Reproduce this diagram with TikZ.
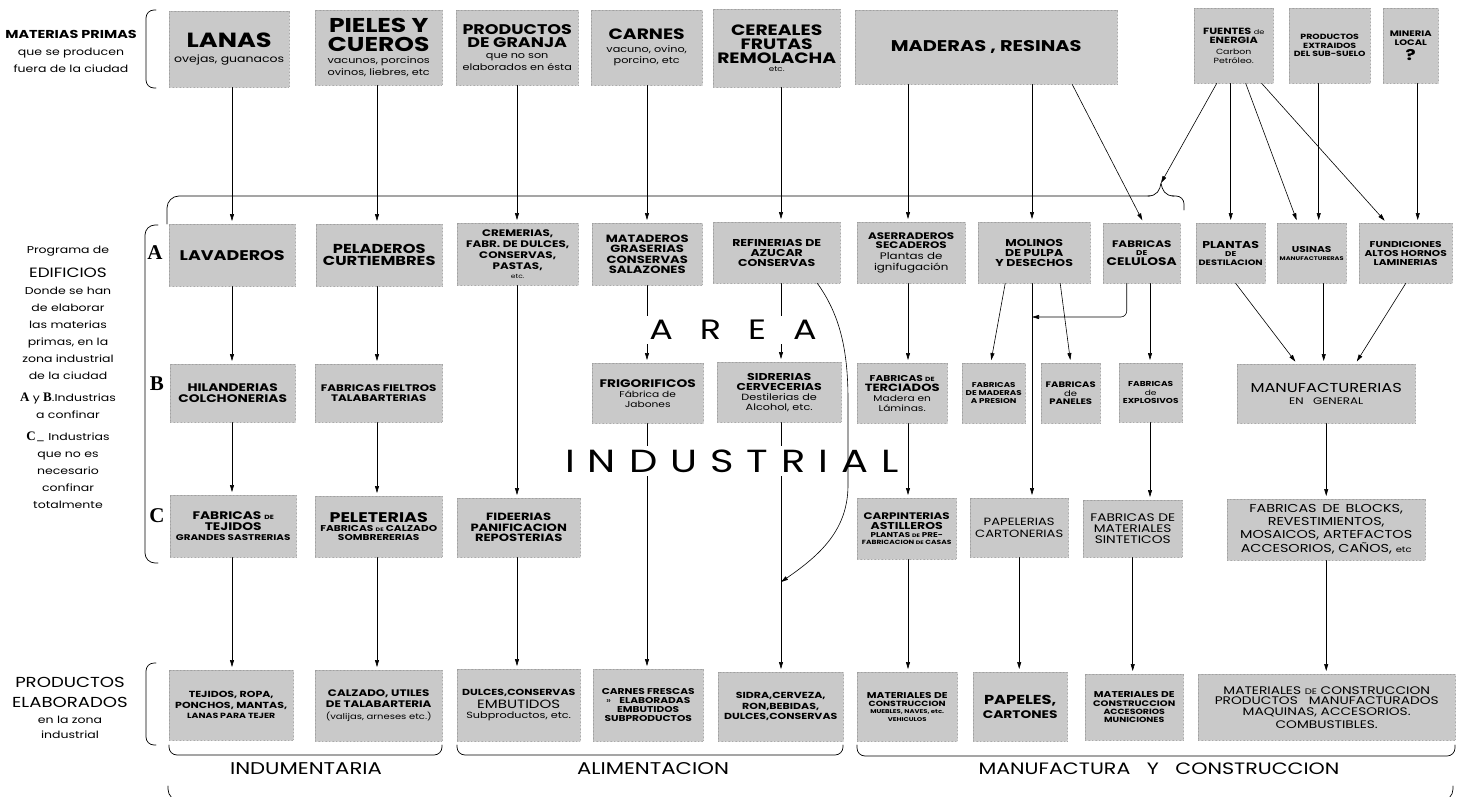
\documentclass[tikz,border=0pt]{standalone}
\usepackage{fontspec}
\setmainfont{Poppins}[FakeStretch=1.25]
\newfontfamily\abcfont{Liberation Serif}
\usetikzlibrary{arrows.meta}
\newcommand{\tx}[2]{{\fontsize{#1}{#1}\selectfont#2}}
\definecolor{screen}{gray}{0.79}

\begin{document}
\begin{tikzpicture}[x=1pt, y=-1pt, line cap=round, line join=round,
  box/.style={anchor=north west, fill=screen, draw=black!40, densely dotted, line width=0.4pt,
    inner sep=1pt, align=center, font=\fontsize{8}{0}\selectfont\bfseries\setlength{\lineskip}{3pt}},
  arr/.style={solid, line width=0.6pt, -{Triangle[length=7pt,width=4pt]}, shorten >=3pt},
  brk/.style={line width=0.7pt},
  side/.style={anchor=north, inner sep=0pt, align=center, font=\fontsize{10}{17}\selectfont},
  abc/.style={font=\abcfont\bfseries\fontsize{21}{21}\selectfont},
  area/.style={fill=white, inner sep=4pt, font=\fontsize{28}{28}\selectfont},
  sect/.style={font=\fontsize{17}{17}\selectfont}]
\useasboundingbox (0,0) rectangle (1464,797);

\coordinate (c1) at (232,0);
\coordinate (c2) at (377,0);
\coordinate (c3) at (517,0);
\coordinate (c4) at (647,0);
\coordinate (c5) at (781,0);
\coordinate (c6) at (908,0);
\coordinate (c7) at (1032,0);
\coordinate (c9) at (1150,0);
\coordinate (tip) at (1161,183);
\coordinate (celj) at (1032,317);
\coordinate (sidj) at (781,582);

\node[side] (mp) at (71,30) {\tx{11.5}{\bfseries MATERIAS PRIMAS}\\que se producen\\fuera de la ciudad};
\node[side] (edif) at (68,246) {Programa de\\[7pt]\tx{13.5}{EDIFICIOS}\\Donde se han\\de elaborar\\las materias\\primas, en la\\zona industrial\\de la ciudad\\[5pt]{\abcfont\bfseries\tx{13}{A}} y {\abcfont\bfseries\tx{13}{B}}.Industrias\\a confinar\\[5pt]{\abcfont\bfseries\tx{13}{C}}\_ Industrias\\que no es\\necesario\\confinar\\totalmente};
\node[side, font=\fontsize{10}{15}\selectfont] (pe) at (70,677) {\tx{14.5}{PRODUCTOS}\\[5pt]\tx{14.5}{ELABORADOS}\\[1pt]en la zona\\industrial};
\node[abc] (la) at (155,253) {A};
\node[abc] (lb) at (157,384) {B};
\node[abc] (lc) at (157,516) {C};

\node[box, minimum width=120pt, minimum height=76pt] (lanas) at (169,11) {\tx{20.5}{LANAS}\\[4pt]\tx{10}{\mdseries ovejas, guanacos}};
\node[box, minimum width=127pt, minimum height=75pt] (pieles) at (315,10) {\tx{20}{PIELES Y}\\[1pt]\tx{20}{CUEROS}\\[2pt]\tx{9}{\mdseries vacunos, porcinos}\\\tx{9}{\mdseries ovinos, liebres, etc}};
\node[box, minimum width=122pt, minimum height=75pt] (granja) at (456,10) {\tx{14}{PRODUCTOS}\\\tx{14}{DE GRANJA}\\[2pt]\tx{9}{\mdseries que no son}\\\tx{9}{\mdseries elaborados en ésta}};
\node[box, minimum width=111pt, minimum height=75pt] (carnes) at (591,10) {\tx{15}{CARNES}\\[3pt]\tx{9}{\mdseries vacuno, ovino,}\\\tx{9}{\mdseries porcino, etc}};
\node[box, minimum width=127pt, minimum height=78pt] (cereal) at (713,9) {\tx{15}{CEREALES}\\\tx{15}{FRUTAS}\\\tx{15}{REMOLACHA}\\\tx{7}{\mdseries etc.}};
\node[box, minimum width=262pt, minimum height=74pt] (maderas) at (855,10) {\tx{15.5}{MADERAS , RESINAS}};
\node[box, minimum width=79pt, minimum height=75pt] (fuentes) at (1194,8) {\tx{9}{FUENTES \tx{6.5}{\mdseries de}}\\\tx{9}{ENERGIA}\\[2pt]\tx{7.5}{\mdseries Carbon}\\\tx{7.5}{\mdseries Petróleo.}};
\node[box, minimum width=81pt, minimum height=75pt] (extra) at (1289,8) {\tx{7.5}{PRODUCTOS}\\\tx{7.5}{EXTRAIDOS}\\\tx{7.5}{DEL SUB-SUELO}};
\node[box, minimum width=55pt, minimum height=75pt] (mineria) at (1383,8) {\tx{8}{MINERIA}\\\tx{8}{LOCAL}\\[1pt]\tx{15}{?}};

\node[box, minimum width=126pt, minimum height=62pt] (lavad) at (169,224) {\tx{14}{LAVADEROS}};
\node[box, minimum width=126pt, minimum height=62pt] (pelad) at (316,224) {\tx{13}{PELADEROS}\\\tx{13}{CURTIEMBRES}};
\node[box, minimum width=121pt, minimum height=62pt] (crem) at (457,223) {\tx{9.5}{CREMERIAS,}\\\tx{9.5}{FABR. DE DULCES,}\\\tx{9.5}{CONSERVAS,}\\\tx{9.5}{PASTAS,}\\\tx{6}{\mdseries etc.}};
\node[box, minimum width=110pt, minimum height=62pt] (matad) at (592,223) {\tx{10.5}{MATADEROS}\\\tx{10.5}{GRASERIAS}\\\tx{10.5}{CONSERVAS}\\\tx{10.5}{SALAZONES}};
\node[box, minimum width=127pt, minimum height=61pt] (refin) at (713,222) {\tx{10}{REFINERIAS DE}\\\tx{10}{AZUCAR}\\\tx{10}{CONSERVAS}};
\node[box, minimum width=108pt, minimum height=61pt] (aserr) at (857,222) {\tx{9.5}{ASERRADEROS}\\\tx{9.5}{SECADEROS}\\[1pt]\tx{9.5}{\mdseries Plantas de}\\\tx{9.5}{\mdseries ignifugación}};
\node[box, minimum width=112pt, minimum height=61pt] (molin) at (978,222) {\tx{10}{MOLINOS}\\\tx{10}{DE PULPA}\\\tx{10}{Y DESECHOS}};
\node[box, minimum width=77pt, minimum height=60pt] (celul) at (1103,223) {\tx{9.5}{FABRICAS}\\\tx{7}{DE}\\\tx{11}{CELULOSA}};
\node[box, minimum width=69pt, minimum height=60pt] (plant) at (1196,223) {\tx{10}{PLANTAS}\\\tx{7}{DE}\\\tx{7.8}{DESTILACION}};
\node[box, minimum width=69pt, minimum height=60pt] (usin) at (1277,223) {\tx{8.5}{USINAS}\\[1pt]\tx{5.3}{MANUFACTURERAS}};
\node[box, minimum width=93pt, minimum height=60pt] (fund) at (1359,223) {\tx{8.5}{FUNDICIONES}\\\tx{8.5}{ALTOS HORNOS}\\\tx{8.5}{LAMINERIAS}};

\node[box, minimum width=125pt, minimum height=58pt] (hiland) at (170,364) {\tx{11}{HILANDERIAS}\\\tx{11}{COLCHONERIAS}};
\node[box, minimum width=127pt, minimum height=58pt] (fieltr) at (315,364) {\tx{9.5}{FABRICAS FIELTROS}\\\tx{9.5}{TALABARTERIAS}};
\node[box, minimum width=111pt, minimum height=60pt] (frigo) at (592,363) {\tx{11}{FRIGORIFICOS}\\[1pt]\tx{8.5}{\mdseries Fábrica de}\\\tx{8.5}{\mdseries Jabones}};
\node[box, minimum width=124pt, minimum height=60pt] (sidrer) at (717,362) {\tx{10}{SIDRERIAS}\\\tx{10}{CERVECERIAS}\\\tx{9}{\mdseries Destilerias de}\\\tx{9}{\mdseries Alcohol, etc.}};
\node[box, minimum width=90pt, minimum height=60pt] (terc) at (857,363) {\tx{8.5}{FABRICAS \tx{6}{DE}}\\\tx{10.5}{TERCIADOS}\\\tx{8.5}{\mdseries Madera en}\\\tx{8.5}{\mdseries Láminas.}};
\node[box, minimum width=63pt, minimum height=60pt] (presion) at (962,363) {\tx{7}{FABRICAS}\\\tx{7}{DE MADERAS}\\\tx{7}{A PRESION}};
\node[box, minimum width=59pt, minimum height=60pt] (panel) at (1041,363) {\tx{8}{FABRICAS}\\\tx{8}{\mdseries de}\\\tx{8}{PANELES}};
\node[box, minimum width=63pt, minimum height=59pt] (explo) at (1119,363) {\tx{7.2}{FABRICAS}\\\tx{7.2}{\mdseries de}\\\tx{7.2}{EXPLOSIVOS}};
\node[box, minimum width=178pt, minimum height=59pt] (manuf) at (1237,364) {\tx{13}{\mdseries MANUFACTURERIAS}\\[2pt]\tx{9.5}{\mdseries EN\quad GENERAL}};

\node[box, minimum width=126pt, minimum height=62pt] (ftejid) at (170,495) {\tx{11}{FABRICAS \tx{6}{DE}}\\\tx{11}{TEJIDOS}\\[1pt]\tx{8.3}{GRANDES SASTRERIAS}};
\node[box, minimum width=127pt, minimum height=61pt] (pelet) at (315,496) {\tx{14}{PELETERIAS}\\\tx{8.5}{FABRICAS \tx{5}{DE} CALZADO}\\\tx{8.5}{SOMBRERERIAS}};
\node[box, minimum width=123pt, minimum height=59pt] (fide) at (457,498) {\tx{10.5}{FIDEERIAS}\\\tx{10.5}{PANIFICACION}\\\tx{10.5}{REPOSTERIAS}};
\node[box, minimum width=99pt, minimum height=61pt] (carp) at (857,498) {\tx{9.5}{CARPINTERIAS}\\\tx{10}{ASTILLEROS}\\\tx{7}{PLANTAS \tx{5}{DE} PRE-}\\\tx{6}{FABRICACION \tx{5}{DE} CASAS}};
\node[box, minimum width=98pt, minimum height=59pt] (papel) at (970,498) {\tx{10.5}{\mdseries PAPELERIAS}\\[1pt]\tx{10.5}{\mdseries CARTONERIAS}};
\node[box, minimum width=99pt, minimum height=57pt] (sint) at (1083,500) {\tx{11}{\mdseries FABRICAS DE}\\\tx{11}{\mdseries MATERIALES}\\\tx{11}{\mdseries SINTETICOS}};
\node[box, minimum width=198pt, minimum height=61pt] (blocks) at (1227,499) {\tx{11.5}{\mdseries FABRICAS\enspace DE\enspace BLOCKS,}\\\tx{11.5}{\mdseries REVESTIMIENTOS,}\\\tx{11.5}{\mdseries MOSAICOS, ARTEFACTOS}\\\tx{11.5}{\mdseries ACCESORIOS, CAÑOS, \tx{8}{etc}}};

\node[box, minimum width=124pt, minimum height=70pt] (tejrop) at (169,670) {\tx{8.8}{TEJIDOS, ROPA,}\\\tx{8.8}{PONCHOS, MANTAS,}\\[1pt]\tx{7.5}{LANAS PARA TEJER}};
\node[box, minimum width=127pt, minimum height=71pt] (calz) at (315,670) {\tx{9.5}{CALZADO, UTILES}\\\tx{9.5}{DE TALABARTERIA}\\[1pt]\tx{8}{\mdseries (valijas, arneses etc.)}};
\node[box, minimum width=123pt, minimum height=72pt] (dulc) at (457,669) {\tx{8.8}{DULCES,CONSERVAS}\\\tx{12}{\mdseries EMBUTIDOS}\\\tx{9}{\mdseries Subproductos, etc.}};
\node[box, minimum width=110pt, minimum height=72pt] (cfres) at (593,669) {\tx{8.5}{CARNES FRESCAS}\\\tx{8.5}{{\mdseries »}\quad ELABORADAS}\\\tx{8.5}{EMBUTIDOS}\\\tx{8.5}{SUBPRODUCTOS}};
\node[box, minimum width=125pt, minimum height=69pt] (sidra) at (718,672) {\tx{8.8}{SIDRA,CERVEZA,}\\\tx{8.8}{RON,BEBIDAS,}\\\tx{8.8}{DULCES,CONSERVAS}};
\node[box, minimum width=100pt, minimum height=69pt] (matc1) at (857,672) {\tx{8.5}{MATERIALES DE}\\\tx{7.5}{CONSTRUCCION}\\\tx{5.5}{MUEBLES, NAVES, etc.}\\\tx{5.5}{VEHICULOS}};
\node[box, minimum width=94pt, minimum height=69pt] (papls) at (973,672) {\tx{13}{PAPELES,}\\[1pt]\tx{11}{CARTONES}};
\node[box, minimum width=98pt, minimum height=66pt] (matc2) at (1085,674) {\tx{8.5}{MATERIALES DE}\\\tx{8}{CONSTRUCCION}\\\tx{7.5}{ACCESORIOS}\\\tx{7.5}{MUNICIONES}};
\node[box, minimum width=257pt, minimum height=66pt] (matgen) at (1198,674) {\tx{11}{\mdseries MATERIALES \tx{8}{DE} CONSTRUCCION}\\\tx{11}{\mdseries PRODUCTOS\quad MANUFACTURADOS}\\\tx{11}{\mdseries MAQUINAS, ACCESORIOS.}\\\tx{11}{\mdseries COMBUSTIBLES.}};

\node[sect] (indum) at (306,769) {INDUMENTARIA};
\node[sect] (alim) at (653,769) {ALIMENTACION};
\node[sect, font=\fontsize{16.5}{16.5}\selectfont] (manu) at (1159,769) {MANUFACTURA\quad Y\quad CONSTRUCCION};

\draw[brk, rounded corners=8pt] (156,10) -- (146,10) -- (146,88) -- (156,88);
\draw[brk, rounded corners=10pt] (158,225) -- (145,225) -- (145,563) -- (158,563);
\draw[brk, rounded corners=8pt] (156,663) -- (146,663) -- (146,745) -- (156,745);
\draw[brk, rounded corners=12pt] (167,224) -- (167,196) -- (1150,196);
\draw[brk] (1148,196) .. controls (1157,196) and (1160,190) .. (tip) .. controls (1162,190) and (1165,196) .. (1174,196);
\draw[brk, rounded corners=8pt] (1172,196) -- (1184,196) -- (1184,210);
\draw[brk, rounded corners=8pt] (169,745) -- (169,755) -- (442,755) -- (442,745);
\draw[brk, rounded corners=8pt] (457,745) -- (457,755) -- (843,755) -- (843,745);
\draw[brk, rounded corners=8pt] (857,745) -- (857,756) -- (1455,756) -- (1455,745);
\draw[brk, rounded corners=12pt] (168,786) -- (168,801) -- (1453,801) -- (1453,786);

\draw[arr] (lanas.south -| c1) -- (lavad.north -| c1);
\draw[arr] (lavad.south -| c1) -- (hiland.north -| c1);
\draw[arr] (hiland.south -| c1) -- (ftejid.north -| c1);
\draw[arr] (ftejid.south -| c1) -- (tejrop.north -| c1);
\draw[arr] (pieles.south -| c2) -- (pelad.north -| c2);
\draw[arr] (pelad.south -| c2) -- (fieltr.north -| c2);
\draw[arr] (fieltr.south -| c2) -- (pelet.north -| c2);
\draw[arr] (pelet.south -| c2) -- (calz.north -| c2);
\draw[arr] (granja.south -| c3) -- (crem.north -| c3);
\draw[arr] (crem.south -| c3) -- (fide.north -| c3);
\draw[arr] (fide.south -| c3) -- (dulc.north -| c3);
\draw[arr] (carnes.south -| c4) -- (matad.north -| c4);
\draw[arr] (matad.south -| c4) -- (frigo.north -| c4);
\draw[arr] (frigo.south -| c4) -- (cfres.north -| c4);
\draw[arr] (cereal.south -| c5) -- (refin.north -| c5);
\draw[arr] (refin.south -| c5) -- (sidrer.north -| c5);
\draw[arr] (sidrer.south -| c5) -- (sidra.north -| c5);
\draw[arr] (maderas.south -| c6) -- (aserr.north -| c6);
\draw[arr] (aserr.south -| c6) -- (terc.north -| c6);
\draw[arr] (terc.south -| c6) -- (carp.north -| c6);
\draw[arr] (carp.south -| c6) -- (matc1.north -| c6);
\draw[arr] (maderas.south -| c7) -- (molin.north -| c7);
\draw[arr] (molin.south -| c7) -- (papel.north -| c7);
\draw[arr] (papel.south) -- (papel.south |- papls.north);
\draw[arr] ([xshift=86pt]maderas.south) -- ([xshift=2pt]celul.north);
\draw[arr] ([xshift=-29pt]molin.south) -- ([xshift=-3pt]presion.north);
\draw[arr] ([xshift=26pt]molin.south) -- (panel.north);
\draw[arr, shorten >=0pt, rounded corners=6pt] ([xshift=-15pt]celul.south) |- (celj);
\draw[arr] (celul.south -| c9) -- (explo.north -| c9);
\draw[arr] (explo.south -| c9) -- (sint.north -| c9);
\draw[arr] (sint.south) -- (sint.south |- matc2.north);
\draw[arr, shorten >=0pt] ([xshift=-17pt]fuentes.south) -- (tip);
\draw[arr] (fuentes.south -| plant.north) -- (plant.north);
\draw[arr] ([xshift=12pt]fuentes.south) -- ([xshift=-14pt]usin.north);
\draw[arr] ([xshift=28pt]fuentes.south) -- ([xshift=-19pt]fund.north);
\draw[arr] ([xshift=7pt]usin.north |- extra.south) -- ([xshift=7pt]usin.north);
\draw[arr] ([xshift=12pt]fund.north |- mineria.south) -- ([xshift=12pt]fund.north);
\draw[arr] ([xshift=5pt]plant.south) -- ([xshift=-29pt]manuf.north);
\draw[arr] ([xshift=12pt]usin.south) -- ([xshift=12pt]usin.south |- manuf.north);
\draw[arr] (fund.south) -- ([xshift=29pt]manuf.north);
\draw[arr] (manuf.south) -- (manuf.south |- blocks.north);
\draw[arr] (blocks.south) -- (blocks.south |- matgen.north);

\node[area] (area) at (733,330) {A\hspace{27pt}R\hspace{27pt}E\hspace{27pt}A};
\node[area, inner xsep=8pt, font=\fontsize{32}{32}\selectfont] (indus) at (732,461) {I\hspace{13pt}N\hspace{13pt}D\hspace{13pt}U\hspace{13pt}S\hspace{13pt}T\hspace{13pt}R\hspace{13pt}I\hspace{13pt}A\hspace{13pt}L};

\draw[arr, shorten >=0pt] ([xshift=-23pt]refin.south east) .. controls (840,315) and (848,350) .. (848,400) -- (848,485) .. controls (848,530) and (820,555) .. (sidj);
\end{tikzpicture}
\end{document}
